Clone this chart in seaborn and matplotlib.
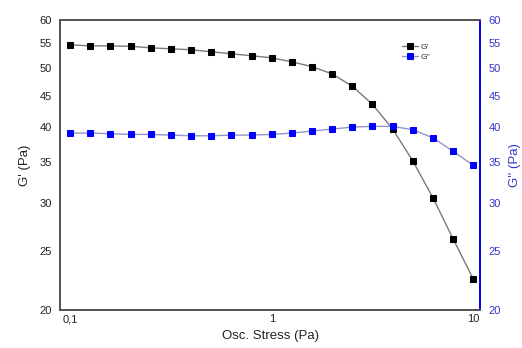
import numpy as np
import pandas as pd
import matplotlib
matplotlib.use("Agg")
import matplotlib.pyplot as plt
import seaborn as sns
from matplotlib.ticker import FixedLocator, FixedFormatter, NullLocator

# oscillatory stress sweep, 10 points per decade
stress = [0.1, 0.126, 0.158, 0.2, 0.251, 0.316, 0.398, 0.501, 0.631, 0.794, 1.0,
          1.26, 1.58, 2.0, 2.51, 3.16, 3.98, 5.01, 6.31, 7.94, 10.0]
g_storage = [54.6, 54.4, 54.4, 54.3, 54.0, 53.8, 53.6, 53.2, 52.8, 52.4, 52.0,
             51.2, 50.3, 48.9, 46.7, 43.6, 39.7, 35.2, 30.6, 26.2, 22.5]
g_loss = [39.1, 39.1, 39.0, 38.9, 38.9, 38.8, 38.7, 38.7, 38.8, 38.8, 38.9,
          39.1, 39.4, 39.7, 40.0, 40.1, 40.1, 39.6, 38.4, 36.5, 34.6]

y_ticks = [20, 25, 30, 35, 40, 45, 50, 55, 60]
x_ticks = [0.1, 1, 10]
x_labels = ["0,1", "1", "10"]

df = pd.DataFrame({"stress": stress, "G1": g_storage, "G2": g_loss})

sns.set_style("white")
plt.rcParams["font.family"] = ["Liberation Sans", "DejaVu Sans"]

blue = "#0000ff"
blue_txt = "#3535c8"

fig = plt.figure(figsize=(5.22, 3.48), dpi=100)
ax = fig.add_axes([0.115, 0.109, 0.8045, 0.8335])
ax2 = ax.twinx()

sns.lineplot(data=df, x="stress", y="G1", ax=ax, color="#7a7a7a", lw=1.0,
             marker="s", markersize=4.3, markerfacecolor="black",
             markeredgecolor="black", label="G'", legend=False)
sns.lineplot(data=df, x="stress", y="G2", ax=ax2, color="#9494c8", lw=1.0,
             marker="s", markersize=4.3, markerfacecolor=blue,
             markeredgecolor=blue, label="G''", legend=False)

for a in (ax, ax2):
    a.set_xscale("log")
    a.set_yscale("log")
    a.set_ylim(20, 60)
    a.yaxis.set_major_locator(FixedLocator(y_ticks))
    a.yaxis.set_major_formatter(FixedFormatter([str(t) for t in y_ticks]))
    a.yaxis.set_minor_locator(NullLocator())
    a.tick_params(length=0, labelsize=8, pad=6)

ax.set_xlim(0.089, 10.8)
ax.xaxis.set_major_locator(FixedLocator(x_ticks))
ax.xaxis.set_major_formatter(FixedFormatter(x_labels))
ax.xaxis.set_minor_locator(NullLocator())
ax.tick_params(axis="x", pad=3)

ax.set_xlabel("Osc. Stress (Pa)", fontsize=9.5, color="#222222", labelpad=4)
ax.set_ylabel("G' (Pa)", fontsize=9.5, color="#222222", labelpad=6)
ax2.set_ylabel("G'' (Pa)", fontsize=9.5, color=blue_txt, labelpad=6)
ax.tick_params(axis="both", colors="#222222")
ax2.tick_params(axis="y", colors=blue_txt)

for a in (ax, ax2):
    for s in a.spines.values():
        s.set_color("#555555")
        s.set_linewidth(1.4)
ax2.spines["right"].set_color(blue)
ax.spines["right"].set_visible(False)

h1, l1 = ax.get_legend_handles_labels()
h2, l2 = ax2.get_legend_handles_labels()
ax.legend(h1 + h2, l1 + l2, loc="upper left", bbox_to_anchor=(0.8, 0.94),
          frameon=False, fontsize=6, handlelength=2.0, handletextpad=0.3,
          labelspacing=0.2, borderpad=0.2)

fig.savefig("out.png", dpi=100)
